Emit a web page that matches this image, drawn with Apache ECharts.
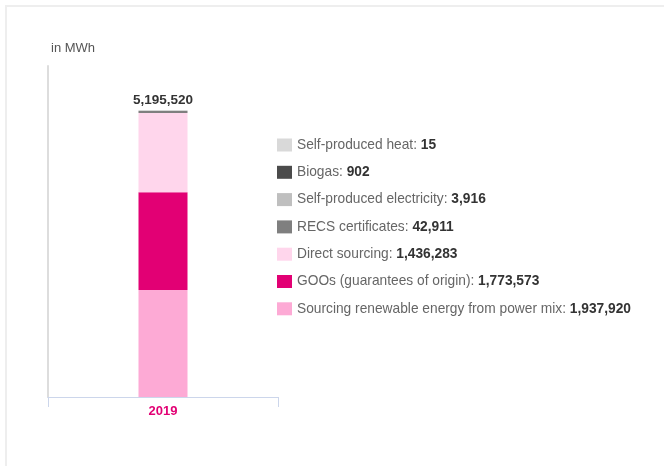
<!DOCTYPE html>
<html>
<head>
<meta charset="utf-8">
<script src="https://cdn.jsdelivr.net/npm/echarts@6/dist/echarts.min.js"></script>
<style>
  html, body { margin: 0; padding: 0; background: #fff; }
  #card { position: absolute; left: 5px; top: 5px; width: 670px; height: 470px;
          border-left: 2px solid #eeeeee; border-top: 2px solid #eeeeee; box-sizing: border-box; }
  #chart { position: absolute; left: 0; top: 0; width: 664px; height: 466px; }
</style>
</head>
<body>
<div id="card"></div>
<div id="chart"></div>
<script>
const years = ['2019'];
// bottom -> top of the stack
const seriesNames = [
    'Sourcing renewable energy from power mix',
    'GOOs (guarantees of origin)',
    'Direct sourcing',
    'RECS certificates',
    'Self-produced electricity',
    'Biogas',
    'Self-produced heat'
];
const seriesValues = [1937920, 1773573, 1436283, 42911, 3916, 902, 15];
const seriesColors = ['#fdaad5', '#e20074', '#ffd6ec', '#7f7f7f', '#bfbfbf', '#4b4b4b', '#d9d9d9'];
const totalLabel = '5,195,520';

document.addEventListener('DOMContentLoaded', () => {
    const chart = echarts.init(document.getElementById('chart'));
    const fmt = (v) => v.toLocaleString('en-US');
    const valueByName = {};
    seriesNames.forEach((n, i) => { valueByName[n] = seriesValues[i]; });

    const series = seriesNames.map((name, i) => ({
        name,
        type: 'bar',
        stack: 'total',
        barWidth: 49,
        data: [seriesValues[i]],
        itemStyle: { color: seriesColors[i] },
        label: i === seriesNames.length - 1 ? {
            show: true,
            position: 'top',
            distance: 3,
            formatter: () => totalLabel,
            fontFamily: 'Liberation Sans',
            fontSize: 13.5,
            fontWeight: 'bold',
            color: '#333'
        } : { show: false },
        emphasis: { disabled: true }
    }));

    chart.setOption({
        animation: false,
        textStyle: { fontFamily: 'Liberation Sans' },
        title: {
            text: 'in MWh',
            left: 46,
            top: 37,
            textStyle: { fontSize: 13, fontWeight: 'normal', color: '#555' }
        },
        grid: { left: 48, right: 386, top: 66, bottom: 69 },
        legend: {
            orient: 'vertical',
            left: 277,
            top: 138,
            padding: 0,
            itemWidth: 15,
            itemHeight: 13,
            itemGap: 13.3,
            icon: 'rect',
            selectedMode: false,
            data: seriesNames.slice().reverse(),
            formatter: (name) => `{n|${name}: }{v|${fmt(valueByName[name])}}`,
            textStyle: {
                padding: [0, 0, 0, 0],
                rich: {
                    n: { fontSize: 13.75, color: '#666', fontFamily: 'Liberation Sans' },
                    v: { fontSize: 13.75, color: '#333', fontWeight: 'bold', fontFamily: 'Liberation Sans' }
                }
            }
        },
        xAxis: {
            type: 'category',
            data: years,
            axisLine: { lineStyle: { color: '#ccd6eb', width: 1 } },
            axisTick: { show: true, length: 10, lineStyle: { color: '#ccd6eb' } },
            axisLabel: { color: '#e20074', fontSize: 13, fontWeight: 'bold', margin: 8 }
        },
        yAxis: {
            type: 'value',
            min: 0,
            max: 6000000,
            axisLine: { show: true, lineStyle: { color: '#dddddd', width: 2 } },
            axisTick: { show: false },
            axisLabel: { show: false },
            splitLine: { show: false }
        },
        series
    });
});
</script>
</body>
</html>
